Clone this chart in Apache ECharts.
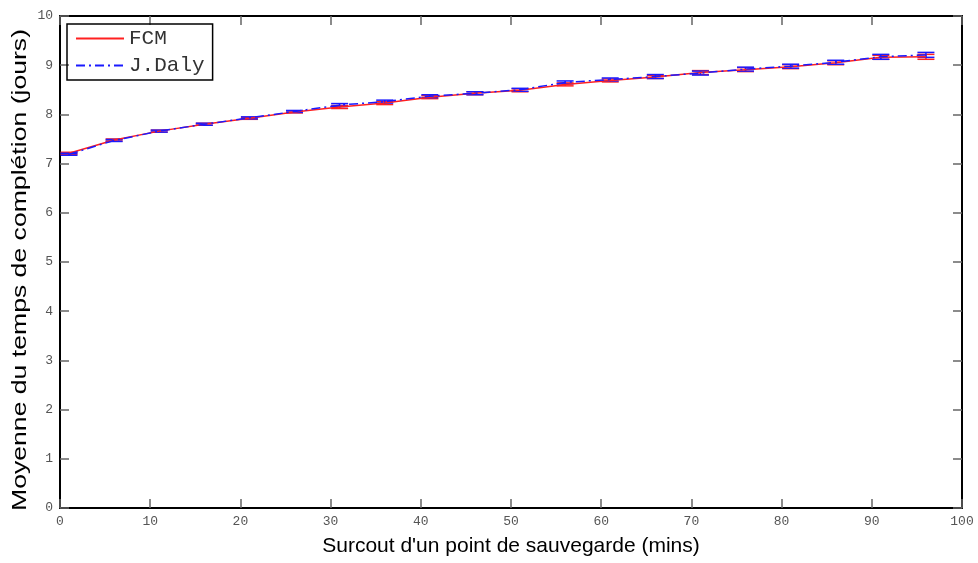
<!DOCTYPE html>
<html>
<head>
<meta charset="utf-8">
<script src="https://cdn.jsdelivr.net/npm/echarts@6/dist/echarts.min.js"></script>
<style>html,body{margin:0;padding:0;background:#fff}#c{width:978px;height:563px}</style>
</head>
<body>
<div id="c"></div>
<script>
var xValues = [1, 6, 11, 16, 21, 26, 31, 36, 41, 46, 51, 56, 61, 66, 71, 76, 81, 86, 91, 96];
var fcmMean = [7.21, 7.48, 7.66, 7.80, 7.92, 8.05, 8.15, 8.23, 8.35, 8.43, 8.49, 8.61, 8.69, 8.76, 8.85, 8.91, 8.97, 9.05, 9.16, 9.17];
var fcmErr  = [0.02, 0.02, 0.02, 0.02, 0.02, 0.02, 0.03, 0.03, 0.03, 0.03, 0.03, 0.03, 0.03, 0.03, 0.04, 0.04, 0.04, 0.04, 0.04, 0.05];
var dalyMean = [7.19, 7.47, 7.66, 7.80, 7.93, 8.06, 8.19, 8.26, 8.37, 8.43, 8.50, 8.65, 8.71, 8.77, 8.84, 8.92, 8.98, 9.06, 9.17, 9.21];
var dalyErr  = [0.02, 0.02, 0.02, 0.02, 0.02, 0.02, 0.03, 0.03, 0.03, 0.03, 0.03, 0.03, 0.03, 0.04, 0.04, 0.04, 0.04, 0.04, 0.05, 0.05];
var xTicks = [0, 10, 20, 30, 40, 50, 60, 70, 80, 90, 100];
var yTicks = [0, 1, 2, 3, 4, 5, 6, 7, 8, 9, 10];
var seriesNames = ['FCM', 'J.Daly'];
var xTitle = "Surcout d'un point de sauvegarde (mins)";
var yTitle = 'Moyenne du temps de complétion (jours)';

function pairs(ys) { return xValues.map(function (x, i) { return [x, ys[i]]; }); }
function errData(ys, es) { return xValues.map(function (x, i) { return [x, ys[i] - es[i], ys[i] + es[i]]; }); }

function errRender(color) {
  return function (params, api) {
    var x = api.value(0);
    var lo = api.coord([x, api.value(1)]);
    var hi = api.coord([x, api.value(2)]);
    var hw = 8.5;
    var st = { stroke: color, lineWidth: 1.5 };
    return {
      type: 'group',
      children: [
        { type: 'line', shape: { x1: lo[0], y1: lo[1], x2: hi[0], y2: hi[1] }, style: st },
        { type: 'line', shape: { x1: lo[0] - hw, y1: lo[1], x2: lo[0] + hw, y2: lo[1] }, style: st },
        { type: 'line', shape: { x1: hi[0] - hw, y1: hi[1], x2: hi[0] + hw, y2: hi[1] }, style: st }
      ]
    };
  };
}

var tickFont = { fontFamily: 'Liberation Mono', fontSize: 13, color: '#555' };
var tickStyle = { show: true, inside: true, length: 9, lineStyle: { color: '#666', width: 1.5 } };
var lineStyleBox = { show: true, onZero: false, lineStyle: { color: '#000', width: 2 } };
var chart = echarts.init(document.getElementById('c'));
chart.setOption({
  animation: false,
  backgroundColor: '#fff',
  grid: { left: 60, right: 16, top: 16, bottom: 55, containLabel: false, outerBoundsMode: 'none' },
  legend: {
    left: 67, top: 24, orient: 'vertical',
    data: seriesNames,
    borderColor: '#000', borderWidth: 1.5, borderRadius: 0,
    padding: [4, 8, 4, 8], itemGap: 6,
    itemWidth: 48, itemHeight: 20,
    itemStyle: { opacity: 0 },
    textStyle: { fontFamily: 'Liberation Mono', fontSize: 21, color: '#333' }
  },
  graphic: [{
    type: 'text', x: 20, y: 270, rotation: Math.PI / 2, scaleX: 1.33, silent: true,
    style: { text: yTitle, font: '20px "Liberation Sans"', fill: '#000', align: 'center', verticalAlign: 'middle' }
  }],
  xAxis: [{
    type: 'value', min: 0, max: 100, interval: 10, position: 'bottom',
    name: xTitle, nameLocation: 'middle', nameGap: 28,
    nameTextStyle: { fontFamily: 'Liberation Sans', fontSize: 21, color: '#000' },
    axisLine: lineStyleBox, axisTick: tickStyle,
    axisLabel: Object.assign({ margin: 7, formatter: function (v) { return xTicks.indexOf(v) >= 0 ? String(v) : ''; } }, tickFont),
    splitLine: { show: false }
  }, {
    type: 'value', min: 0, max: 100, interval: 10, position: 'top',
    axisLine: lineStyleBox, axisTick: tickStyle,
    axisLabel: { show: false }, splitLine: { show: false }
  }],
  yAxis: [{
    type: 'value', min: 0, max: 10, interval: 1, position: 'left',
    axisLine: lineStyleBox, axisTick: tickStyle,
    axisLabel: Object.assign({ margin: 7, formatter: function (v) { return yTicks.indexOf(v) >= 0 ? String(v) : ''; } }, tickFont),
    splitLine: { show: false }
  }, {
    type: 'value', min: 0, max: 10, interval: 1, position: 'right',
    axisLine: lineStyleBox, axisTick: tickStyle,
    axisLabel: { show: false }, splitLine: { show: false }
  }],
  series: [
    { type: 'custom', name: 'fcmErr', renderItem: errRender('#ff2020'), data: errData(fcmMean, fcmErr), encode: { x: 0, y: [1, 2] }, z: 2, silent: true },
    { type: 'custom', name: 'dalyErr', renderItem: errRender('#1a1aff'), data: errData(dalyMean, dalyErr), encode: { x: 0, y: [1, 2] }, z: 3, silent: true },
    { type: 'line', name: seriesNames[0], data: pairs(fcmMean), symbol: 'none', color: '#ff2020',
      lineStyle: { color: '#ff2020', width: 1.5 }, z: 4 },
    { type: 'line', name: seriesNames[1], data: pairs(dalyMean), symbol: 'none', color: '#1a1aff',
      lineStyle: { color: '#1a1aff', width: 1.5, type: [9, 4, 2, 4] }, z: 5 }
  ]
});
</script>
</body>
</html>
